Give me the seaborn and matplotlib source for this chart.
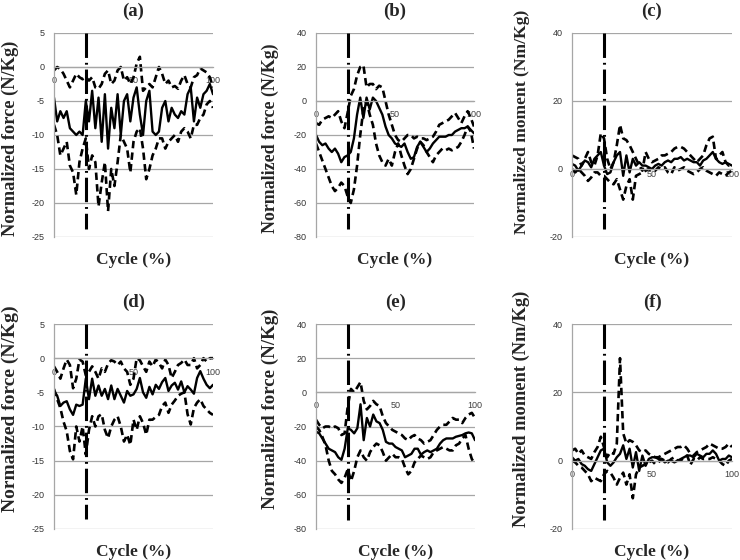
import numpy as np
import pandas as pd
import matplotlib
matplotlib.use("Agg")
import matplotlib.pyplot as plt
import seaborn as sns

# ---------------- data ----------------
cycle = list(range(0, 101, 2))

a_mean = [-4.5, -8, -6.5, -7.5, -6.5, -9, -9.5, -10, -9.5, -10, -5, -8, -3.5, -9, -4.5, -11, -4, -12, -6, -9,
          -4, -10, -5, -4, -8, -4.5, -3, -7, -10, -5, -3.5, -9.5, -10, -9.5, -6, -5, -8, -6, -7, -7.5,
          -6.5, -7, -4, -3, -8, -4.5, -6, -4, -3.5, -2.5, -4]
a_upper = [-0.5, 0, -0.3, -1, -2, -3, -2, -1, -1.5, -1.8, -1.5, -2, -1.5, -3, -3.2, -2.5, -1, -0.5, -2.5, -2,
           -0.5, 0, -2, -1.5, -2.5, -1.5, 0.5, 1.5, -3.5, -3, -2.5, -3, -1.5, 0, -1, -2.5, -2, -3, -2.8, -3.2,
           -2, -1.2, -2.5, -3, -1.5, -1.2, -0.2, -0.5, -0.8, -1.5, -3]
a_lower = [-8.5, -10, -13, -12, -11, -14.5, -15.5, -18.8, -14, -12, -10.5, -15, -13, -14, -20.5, -17, -14, -21.2, -15, -17.5,
           -14, -10, -11, -12, -15.5, -11, -9.5, -9, -12, -16.5, -15, -13, -12, -10.5, -10.5, -12, -11, -10.5, -10, -11,
           -9.5, -9, -9.5, -10.5, -8.5, -8.5, -7.5, -7, -5.5, -5, -6]

b_mean = [-20, -24, -26, -25, -28, -30, -28, -31, -36, -33, -32, -30, -22, -8, 2, -10, 2, -5, 2, 0,
          -4, -8, -15, -20, -22, -25, -26, -27, -25, -30, -34, -33, -27, -24, -27, -30, -28, -25, -23, -21,
          -21, -21, -20, -20, -18, -17, -16, -16, -15, -17, -19]
b_upper = [-13, -14, -11, -10, -9, -10, -8, -6, -12, -16, -7, 3, 7, 15, 20, 21, 8, 10, 10, 7,
           9, 8, 0, -8, -14, -20, -23, -24, -22, -20, -20, -22, -21, -22, -22, -23, -22, -21, -18, -14,
           -13, -12, -11, -9, -7, -10, -13, -9, -6, -10, -15]
b_lower = [-25, -30, -35, -40, -45, -50, -53, -51, -48, -50, -56, -60, -52, -38, -20, -5, 0, -8, -14, -25,
           -32, -36, -38, -34, -38, -30, -25, -32, -38, -43, -40, -34, -28, -24, -26, -30, -33, -36, -32, -30,
           -28, -29, -28, -29, -28, -27, -24, -20, -15, -18, -28]

c_mean = [1.5, 1, -0.5, 1, 2.5, 2, 0.5, 3, 4, 5, 1, -1.5, -1, 2, 4, 5, -2, 4, -1, 3,
          1, 2, 1, 1, 0.5, 0, 1, 1.5, 1, 2, 2.5, 2, 3, 3, 3.5, 2.5, 3, 2.5, 2, 2,
          1, 2.5, 3, 4, 5, 3, 2, 1.5, 2, 1.5, 1]
c_upper = [4, 3.5, 3, 1, 3, 5, 2, 1, 4, 10.5, 9, 3, 0, 2, 7, 13, 9, 8.5, 7, 5,
           3, 1, -0.5, 5, 3, 2, 2.5, 3, 4, 4, 4.5, 5, 6, 6.5, 6.5, 6, 5, 4, 3, 2,
           3, 4, 7, 9, 9.5, 3, 4, 5, 2, 1, 1.5]
c_lower = [0, -1, 0, -1, -2, -3.5, -2.5, -1, -1, -2, -2, -3, -4, -4.5, -3, -6, -9, -5, -3, -9,
           -2, -1.5, -1, -0.5, 0, -0.7, -0.5, 0.5, 0, 0.5, -1, -1.5, 0.5, -0.5, 0, 0.5, -0.5, -1, -1.5, -1,
           0, 0.5, -0.5, -1, -1.5, -2, -1, -1.5, -2, -1, -0.5]

d_mean = [-4.8, -5.5, -7, -6.5, -6.3, -7.5, -8.3, -6.8, -7, -6.8, -3, -6, -3, -5.5, -4, -5.5, -4.5, -6, -4, -6,
          -4.5, -5.5, -6.5, -4.8, -5.5, -5.3, -4.5, -2.9, -5, -5.8, -4.2, -5.3, -3.9, -4.5, -3.5, -2.9, -4.8, -4, -3.6, -4.6,
          -3.4, -5, -4.1, -4.6, -5.2, -2.9, -1.9, -3, -3.9, -4.4, -3.9]
d_upper = [-1.2, -2, -3, -1.5, -0.2, -1, -4.4, -3, -0.2, -0.5, -2.5, -2, -1.2, -2, -3, -1.5, -2, -0.8, -0.3, -0.5,
           -1, -0.5, -1.5, -2, -3.9, -3, 0, -0.3, -1.2, -2, -0.5, -1.2, -0.2, -0.7, -1.5, -0.2, -1, -2.9, -2, -1,
           -0.7, -0.2, -1, -1, 0, -1.5, -1, 0, -0.5, 0, 0]
d_lower = [-4.5, -6, -7.3, -9.3, -10.7, -13.6, -14.8, -10, -12.2, -10, -14.1, -10.5, -8.5, -10, -8.5, -8.2, -10.5, -11.7, -10, -9,
           -8.5, -10, -12.2, -11.2, -12.7, -9, -10.5, -8.5, -9.5, -11.2, -9, -9, -8.6, -8.3, -7, -6.5, -8, -6.8, -6.2, -5.5,
           -5.2, -5, -8.2, -9.7, -7.3, -6.5, -6, -7, -7.5, -8, -8.3]

e_mean = [-23, -24, -27, -30, -33, -34, -35, -38, -39.5, -33, -21, -22, -24, -21, -7, -28, -15, -20, -13, -17,
          -18, -22, -29, -30, -30, -32, -33, -34, -38, -37, -36, -33, -33, -36.5, -35, -34, -35, -34, -33, -30,
          -28, -27, -27, -27, -26, -25.5, -25, -24, -23.5, -24, -28]
e_upper = [-16, -19, -21, -20, -20, -21, -20, -21, -25, -24, -8, 2, 0, 3, 6, -5, -10, -8, -5, -7,
           -8, -14, -18, -20, -22, -23, -24, -25, -27, -28, -26, -25, -27, -28, -30, -29, -28, -25, -22, -20,
           -19, -19, -17, -15, -16, -16, -18, -15, -13, -12, -15]
e_lower = [-20, -22, -26, -31, -40, -46, -48, -51, -53, -50, -45, -52, -46, -38, -34, -38, -40, -35, -32, -30,
           -31, -35, -40, -38, -36, -38, -38, -39, -44, -48, -46, -41, -39, -37, -38, -39, -38, -35, -34, -33,
           -32, -33, -34, -34, -31, -30, -27, -25, -33, -39, -42]

f_mean = [1, 0, 0.5, -1, -1.5, -2.5, -3, -1, 1, 3, 3.5, -0.5, -1.5, -0.5, 1, 2, 4.5, 0.5, 3.5, -2,
          2.5, -3, 1.5, -1.5, 0.5, 1, 1, 0.5, 0.5, -0.5, 0, 0, -0.5, 0, 0.5, 1, 1.5, 1.5, 1, 2,
          1.5, 1, 2, 2, 3, 2, 0, 0.5, 0.5, 1.5, 1]
f_upper = [3, 3.5, 2, 3, 1.5, 1, 0.5, 2.5, 4, 7, 4, 1, 2.5, 2, 5, 30, 8, 5, 6, 5.5,
           4.5, 3, 2.5, 3, 2, 1.5, 1, 1, 1.5, 2, 2.5, 3, 3.5, 4, 4, 4.5, 3.5, 2, 1.5, 2.5,
           3, 3.5, 4, 5, 4.5, 4, 3.5, 3.5, 4, 5, 4]
f_lower = [0, -0.5, -1.5, -2, -3, -4, -6, -5, -5.5, -6, -4, -3, -3.5, -5, -7, -5, -3.5, -7, -4, -11,
           -4, -2, -1.5, -1, -0.5, 0, -1, -0.5, 0.5, 0, -0.5, 0.5, 1, 0, 0, 1, 1.5, -1.2, 0.5, 0,
           1, 0.5, 0.5, 0.5, 1, 0.5, 0, -1, -1.5, 0, 0.5]

titles = ["(a)", "(b)", "(c)", "(d)", "(e)", "(f)"]
ylabels = ["Normalized force (N/Kg)", "Normalized force (N/Kg)", "Normalized moment (Nm/Kg)",
           "Normalized force (N/Kg)", "Normalized force (N/Kg)", "Normalized moment (Nm/Kg)"]
yticks_list = [[-25, -20, -15, -10, -5, 0, 5], [-80, -60, -40, -20, 0, 20, 40], [-20, 0, 20, 40],
               [-25, -20, -15, -10, -5, 0, 5], [-80, -60, -40, -20, 0, 20, 40], [-20, 0, 20, 40]]
xtick_labels = ["0", "50", "100"]
event_x = 20
event_top = [5, 40, 40, 5, 40, 40]
event_bottom = [-23.8, -75.3, -17.6, -23.6, -75, -17.5]

means = [a_mean, b_mean, c_mean, d_mean, e_mean, f_mean]
uppers = [a_upper, b_upper, c_upper, d_upper, e_upper, f_upper]
lowers = [a_lower, b_lower, c_lower, d_lower, e_lower, f_lower]

# ---------------- layout ----------------
sns.set_style("white")
plt.rcParams["font.family"] = ["Liberation Sans", "DejaVu Sans"]

W, H = 740, 560
fig = plt.figure(figsize=(W / 100, H / 100), dpi=100)

# pixel boxes: left, right, top, bottom
boxes = [(54, 213, 33, 237), (316, 474, 33, 237), (572, 732, 33, 237),
         (54, 213, 324, 529), (316, 475, 324, 529), (572, 732, 324, 529)]
ylabel_off = [35, 37, 42, 35, 37, 42]     # px from axis to right edge of y label
ylabel_y = [0.485, 0.485, 0.565, 0.585, 0.585, 0.585]
ylabel_size = [13.2, 12.9, 12.6, 14.0, 13.6, 13.3]
xtick_pad = [6.3, 6.5, 0.8, 7.2, 6.5, 6.5]  # points

serif = ["Liberation Serif", "DejaVu Serif"]
grid_col = "#a6a6a6"

for i in range(6):
    l, r, t, b = boxes[i]
    ax = fig.add_axes([l / W, 1 - b / H, (r - l) / W, (b - t) / H])
    df = pd.DataFrame({"cycle": cycle, "mean": means[i], "upper": uppers[i], "lower": lowers[i]})
    sns.lineplot(data=df, x="cycle", y="upper", ax=ax, color="black", lw=1.9,
                 linestyle=(0, (2.8, 1.6)), errorbar=None)
    sns.lineplot(data=df, x="cycle", y="lower", ax=ax, color="black", lw=1.9,
                 linestyle=(0, (2.8, 1.6)), errorbar=None)
    sns.lineplot(data=df, x="cycle", y="mean", ax=ax, color="black", lw=1.7,
                 linestyle="-", errorbar=None)
    ax.plot([event_x, event_x], [event_top[i], event_bottom[i]], color="black", lw=2.2,
            linestyle=(0, (8, 1.6, 0.6, 1.6)), solid_capstyle="butt")

    yt = yticks_list[i]
    ax.set_ylim(yt[0], yt[-1])
    ax.set_xlim(0, 100)
    ax.set_yticks(yt)
    ax.set_yticklabels([str(v) for v in yt])
    ax.set_xticks([0, 50, 100])
    ax.set_xticklabels(xtick_labels)
    ax.grid(axis="y", color=grid_col, lw=0.9)
    ax.grid(axis="x", visible=False)
    ax.set_axisbelow(True)

    for s in ["top", "right"]:
        ax.spines[s].set_visible(False)
    ax.spines["left"].set_color(grid_col)
    ax.spines["left"].set_linewidth(0.9)
    ax.spines["bottom"].set_position(("data", 0))
    ax.spines["bottom"].set_color(grid_col)
    ax.spines["bottom"].set_linewidth(0.9)

    ax.tick_params(axis="y", length=0, pad=6.5, labelsize=6.5, labelcolor="#333333")
    ax.tick_params(axis="x", length=0, pad=xtick_pad[i], labelsize=6.5, labelcolor="#404040")

    ax.set_title(titles[i], fontfamily=serif, fontweight="bold", fontsize=13.5, pad=12)
    ax.set_xlabel("Cycle (%)", fontfamily=serif, fontweight="bold", fontsize=12.5)
    ax.xaxis.set_label_coords(0.5, -0.072)
    ax.set_ylabel(ylabels[i], fontfamily=serif, fontweight="bold", fontsize=ylabel_size[i])
    ax.yaxis.set_label_coords(-ylabel_off[i] / (r - l), ylabel_y[i])

fig.savefig("out.png", dpi=100)
